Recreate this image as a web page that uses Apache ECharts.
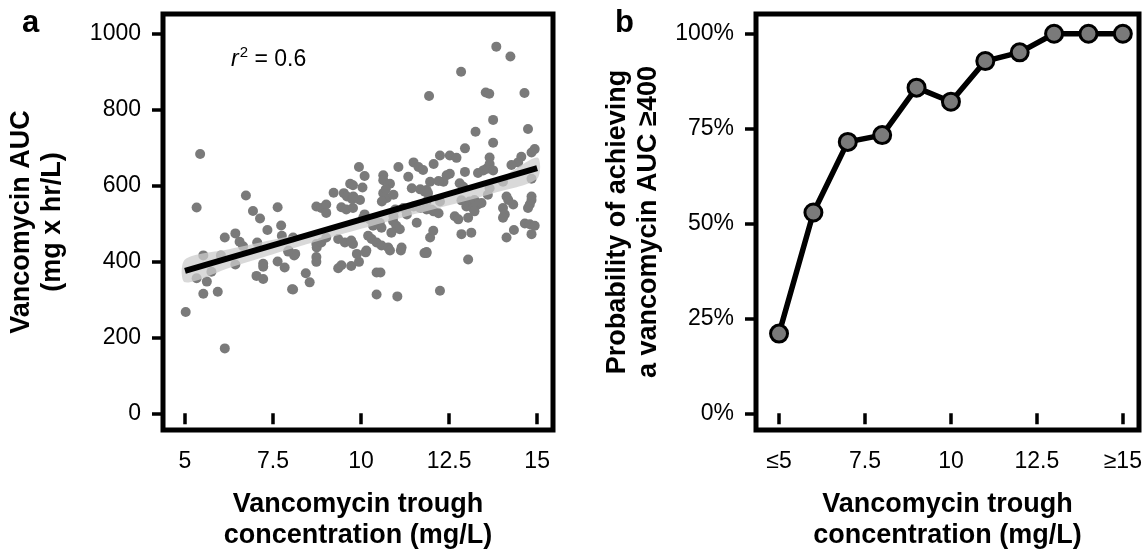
<!DOCTYPE html>
<html><head><meta charset="utf-8">
<script src="https://cdn.jsdelivr.net/npm/echarts@6/dist/echarts.min.js"></script>
<style>html,body{margin:0;padding:0;background:#fff}#c{width:1146px;height:556px}</style>
</head><body><div id="c"></div>
<script>
// Panel a: scatter of trough concentration (mg/L) vs AUC
const troughX = [5.02,5.33,5.43,5.33,5.52,5.52,5.62,5.75,5.93,6.02,6.13,6.13,6.43,6.43,6.55,6.65,6.73,6.93,7.05,7.03,7.22,7.22,7.22,7.13,7.34,7.63,7.63,7.73,7.75,7.83,7.93,8.04,
8.07,8.1,8.13,7.94,8.07,8.43,8.54,8.73,8.87,9.01,9.01,8.73,8.74,8.87,9.01,8.73,8.73,9.22,9.35,9.35,9.44,9.44,9.51,9.6,9.75,9.58,9.77,9.54,9.72,9.77,9.72,9.94,9.88,9.69,9.77,9.94,10.1,10.04,9.97,9.78,
10.1,10.06,10.25,10.39,10.53,10.34,10.58,10.91,11.0,11.1,10.86,10.2,10.3,10.44,10.58,10.77,11.15,10.15,10.13,10.44,10.55,10.44,11.03,10.82,11.13,11.8,11.86,10.63,10.63,10.82,10.63,10.73,10.92,10.7,10.59,10.97,10.92,11.06,11.49,11.63,11.34,11.44,11.68,11.86,11.2,11.29,11.49,11.68,11.86,11.3,11.58,11.96,11.76,11.93,11.81,11.9,11.86,12.0,11.96,12.05,11.86,
12.06,12.24,12.52,12.71,12.52,12.43,12.34,12.2,12.24,12.06,12.2,12.84,12.95,12.95,12.8,12.9,12.85,13.08,13.22,12.99,13.18,13.32,13.42,12.66,12.76,13.04,13.22,12.85,13.13,13.04,12.24,13.25,13.84,14.24,13.54,13.64,14.64,13.75,14.74,13.75,14.93,14.84,14.55,14.46,14.27,13.65,13.65,13.56,13.75,13.47,13.32,14.84,14.03,13.65,13.6,14.13,14.18,14.84,14.84,14.03,14.32,14.08,14.03,14.79,14.74,14.13,14.34,14.65,14.79,14.93,14.84];
const aucY = [267,542,683,356,416,315,347,373,320,416,171,463,474,392,452,440,574,533,450,362,354,394,386,513,483,543,400,495,468,384,426,327,
463,416,420,429,326,369,345,545,541,550,528,446,437,450,463,412,399,581,459,382,390,543,580,571,564,537,541,450,455,446,388,399,420,605,601,649,625,595,562,571,
524,515,511,506,502,494,489,506,494,485,476,468,459,450,442,437,437,429,424,371,371,313,308,429,429,422,425,627,614,605,580,567,576,590,558,537,519,649,661,649,623,593,590,588,541,537,545,541,537,524,502,610,641,836,584,580,558,537,463,481,422,
657,679,679,673,631,627,610,612,558,532,527,900,698,636,606,597,561,558,562,545,541,550,554,519,511,515,532,472,476,405,323,742,966,940,845,842,844,773,749,713,696,687,676,661,654,674,657,644,640,640,633,618,610,593,576,571,562,571,562,541,550,524,515,550,541,463,483,500,498,494,472];
// Fitted regression line and its confidence band
const fitX = [5, 15];
const fitY = [375, 646];
const bandX = [5, 6.25, 7.5, 8.75, 10, 11.25, 12.5, 13.75, 15];
const bandLo = [345, 383, 419, 453, 486, 518, 548, 580, 618];
const bandHi = [405, 432, 457, 480, 508, 537, 570, 608, 674];
const rSquared = 0.6;
// Panel b: probability of AUC >= 400 by trough
const probX = [5, 6, 7, 8, 9, 10, 11, 12, 13, 14, 15];
const probY = [0.21, 0.529, 0.715, 0.733, 0.858, 0.821, 0.928, 0.951, 1, 1, 1];
const xTicks = [5, 7.5, 10, 12.5, 15];
const aucTicks = [0, 200, 400, 600, 800, 1000];
const probTicks = [0, 0.25, 0.5, 0.75, 1];

const FONT = 'Liberation Sans, Arial, sans-serif';
const pairs = (a, b) => a.map((v, i) => [v, b[i]]);
const tickStyle = {show: true, length: 11, lineStyle: {color: '#000', width: 3.5}};
const labStyle = {color: '#000', fontSize: 23, fontFamily: FONT};
const nameStyle = {color: '#000', fontSize: 27, fontWeight: 'bold', fontFamily: FONT, lineHeight: 31};

const chart = echarts.init(document.getElementById('c'), null, {renderer: 'canvas'});
chart.setOption({
  animation: false,
  backgroundColor: '#fff',
  grid: [
    {left: 163, top: 14, width: 390, height: 424, show: true, borderColor: '#000', borderWidth: 5, backgroundColor: 'transparent'},
    {left: 756, top: 14, width: 383, height: 424, show: true, borderColor: '#000', borderWidth: 5, backgroundColor: 'transparent'}
  ],
  xAxis: [
    {gridIndex: 0, type: 'value', min: 4.375, max: 15.45, splitLine: {show: false}, axisLine: {show: false},
     axisTick: Object.assign({customValues: xTicks}, tickStyle),
     axisLabel: Object.assign({customValues: xTicks, margin: 20, formatter: v => String(v)}, labStyle),
     name: 'Vancomycin trough\nconcentration (mg/L)', nameLocation: 'middle', nameGap: 59, nameTextStyle: nameStyle},
    {gridIndex: 1, type: 'value', min: 4.33, max: 15.47, splitLine: {show: false}, axisLine: {show: false},
     axisTick: Object.assign({customValues: xTicks}, tickStyle),
     axisLabel: Object.assign({customValues: xTicks, margin: 20,
       formatter: v => v === 5 ? '≤5' : (v === 15 ? '≥15' : String(v))}, labStyle),
     name: 'Vancomycin trough\nconcentration (mg/L)', nameLocation: 'middle', nameGap: 59, nameTextStyle: nameStyle}
  ],
  yAxis: [
    {gridIndex: 0, type: 'value', min: -44, max: 1052, splitLine: {show: false}, axisLine: {show: false},
     axisTick: Object.assign({customValues: aucTicks}, tickStyle),
     axisLabel: Object.assign({customValues: aucTicks, margin: 22, formatter: v => String(v)}, labStyle),
     name: 'Vancomycin AUC\n(mg x hr/L)', nameLocation: 'middle', nameGap: 95, nameTextStyle: nameStyle},
    {gridIndex: 1, type: 'value', min: -0.044, max: 1.052, splitLine: {show: false}, axisLine: {show: false},
     axisTick: Object.assign({customValues: probTicks}, tickStyle),
     axisLabel: Object.assign({customValues: probTicks, margin: 22,
       formatter: v => Math.round(v * 100) + '%'}, labStyle),
     name: 'Probability of achieving\na vancomycin AUC ≥400', nameLocation: 'middle', nameGap: 92, nameTextStyle: nameStyle}
  ],
  series: [
    {type: 'scatter', xAxisIndex: 0, yAxisIndex: 0, data: pairs(troughX, aucY), symbolSize: 10,
     itemStyle: {color: '#7a7a7a', opacity: 1}, z: 2},
    {type: 'custom', xAxisIndex: 0, yAxisIndex: 0, data: bandX.map((x, i) => [x, bandLo[i], bandHi[i]]), z: 3,
     encode: {x: 0, y: [1, 2]},
     renderItem: function (params, api) {
       if (params.dataIndex !== 0) return null;
       const up = bandX.map((x, i) => api.coord([x, bandHi[i]]));
       const lo = bandX.map((x, i) => api.coord([x, bandLo[i]])).reverse();
       return {type: 'polygon', shape: {points: up.concat(lo), smooth: 0.3},
               style: {fill: '#cccccc', opacity: 0.75}};
     }},
    {type: 'line', xAxisIndex: 0, yAxisIndex: 0, data: pairs(fitX, fitY), symbol: 'none',
     lineStyle: {color: '#000', width: 6}, z: 4},
    {type: 'line', xAxisIndex: 1, yAxisIndex: 1, data: pairs(probX, probY), symbol: 'circle', symbolSize: 17,
     lineStyle: {color: '#000', width: 5.5}, itemStyle: {color: '#7a7a7a', borderColor: '#000', borderWidth: 3}, z: 4}
  ],
  graphic: [
    {type: 'text', left: 22, top: 8, style: {text: 'a', font: 'bold 31px ' + FONT, fill: '#000'}},
    {type: 'text', left: 615, top: 8, style: {text: 'b', font: 'bold 31px ' + FONT, fill: '#000'}},
    {type: 'text', left: 231, top: 45, style: {
      text: '{i|r}{s|2}{n| = ' + rSquared + '}',
      rich: {
        i: {fontSize: 23, fontStyle: 'italic', fontFamily: FONT, fill: '#000', verticalAlign: 'bottom'},
        s: {fontSize: 15, fontFamily: FONT, fill: '#000', verticalAlign: 'top', padding: [0, 0, 11, 1]},
        n: {fontSize: 23, fontFamily: FONT, fill: '#000', verticalAlign: 'bottom'}
      }}}
  ]
});
</script></body></html>
